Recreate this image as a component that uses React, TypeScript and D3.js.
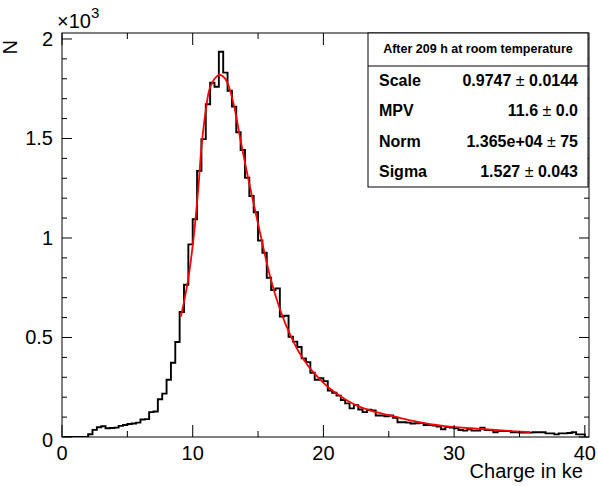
import React from 'react';
import * as d3 from 'd3';

// Histogram: 120 bins over 0..40 ke
const histMin = 0;
const histMax = 40;
const counts = [
  0, 0, 0, 0, 0, 0, 14, 36, 49, 54,
  44, 45, 47, 56, 60, 65, 68, 72, 88, 90,
  125, 128, 190, 218, 288, 373, 477, 628, 765, 968,
  1094, 1337, 1497, 1672, 1780, 1760, 1936, 1831, 1740, 1660,
  1531, 1442, 1303, 1211, 1129, 987, 926, 800, 739, 747,
  605, 609, 504, 479, 452, 395, 376, 323, 288, 295,
  281, 234, 222, 208, 186, 169, 144, 160, 138, 125,
  137, 134, 108, 108, 104, 108, 96, 74, 74, 72,
  68, 69, 71, 60, 60, 57, 52, 39, 50, 48,
  44, 35, 32, 39, 32, 32, 47, 35, 35, 24,
  30, 30, 30, 24, 24, 22, 22, 22, 24, 24,
  24, 18, 18, 13, 18, 18, 20, 24, 13, 13,
];

// Fit curve
const fitX = [9.1, 9.66, 10.05, 10.41, 10.69, 11.02, 11.32, 11.84, 12.09, 12.47, 12.85, 13.24, 13.62, 14.0, 14.38, 14.9, 15.4, 15.9, 16.4, 16.9, 17.3, 18.08, 18.84, 19.61, 20.37, 21.14, 21.91, 22.93, 24.2, 25.48, 26.76, 28.03, 29.3, 31.22, 32.36, 33.89, 35.81];
const fitY = [605, 795, 990, 1235, 1470, 1650, 1755, 1812, 1820, 1802, 1744, 1640, 1505, 1378, 1258, 1102, 952, 812, 697, 602, 537, 432, 357, 298, 250, 212, 180, 148, 122, 102, 82, 66, 55, 44, 39, 32, 24];

const xMajor = [0, 10, 20, 30, 40];
const xMinor = [5, 15, 25, 35];
const yMajor = [0, 500, 1000, 1500, 2000];
const yMajorLabels = ['0', '0.5', '1', '1.5', '2'];

const statsTitle = 'After 209 h at room temperature';
const statsNames = ['Scale', 'MPV', 'Norm', 'Sigma'];
const statsValues = ['0.9747', '11.6', '1.365e+04', '1.527'];
const statsErrors = ['0.0144', '0.0', '75', '0.043'];

const W = 598, H = 486;
const L = 62, R = 589, T = 33, B = 437;
const FONT = 'Liberation Sans, Arial, Helvetica, sans-serif';

export default function App() {
  const x = d3.scaleLinear().domain([0, 40.32]).range([L, R]);
  const y = d3.scaleLinear().domain([0, 2030]).range([B, T]);
  const bw = (histMax - histMin) / counts.length;

  const pts: [number, number][] = [[histMin, 0]];
  counts.forEach((c, i) => {
    pts.push([histMin + i * bw, c]);
    pts.push([histMin + (i + 1) * bw, c]);
  });
  pts.push([histMax, 0]);
  const histPath = d3.line<[number, number]>().x(d => x(d[0])).y(d => y(d[1]))(pts) || '';

  const fitPts = fitX.map((v, i) => [v, fitY[i]] as [number, number]);
  const fitPath = d3.line<[number, number]>().x(d => x(d[0])).y(d => y(d[1])).curve(d3.curveCatmullRom.alpha(0.5))(fitPts) || '';

  const yMinor = d3.range(0, 2001, 100).filter(v => v % 500 !== 0);

  const boxL = 368, boxR = 588, boxT = 33, boxB = 187;
  const rowY = [86, 116, 147, 177];

  return (
    <svg width={W} height={H} style={{ position: 'absolute', left: 0, top: 0, background: '#fff' }} fontFamily={FONT}>
      <rect x={0} y={0} width={W} height={H} fill="#fff" />
      <clipPath id="fr"><rect x={L} y={T} width={R - L} height={B - T} /></clipPath>
      <g clipPath="url(#fr)">
        <path d={histPath} fill="none" stroke="#000" strokeWidth={1.9} />
        <path d={fitPath} fill="none" stroke="#ff0000" strokeWidth={1.8} />
      </g>
      <rect x={L} y={T} width={R - L} height={B - T} fill="none" stroke="#000" strokeWidth={1} />
      {xMajor.map(v => (
        <g key={'xm' + v}>
          <line x1={x(v)} x2={x(v)} y1={B} y2={B - 12} stroke="#000" />
          <line x1={x(v)} x2={x(v)} y1={T} y2={T + 12} stroke="#000" />
          <text x={x(v)} y={460} fontSize={20} textAnchor="middle">{v}</text>
        </g>
      ))}
      {xMinor.map(v => (
        <g key={'xn' + v}>
          <line x1={x(v)} x2={x(v)} y1={B} y2={B - 6} stroke="#000" />
          <line x1={x(v)} x2={x(v)} y1={T} y2={T + 6} stroke="#000" />
        </g>
      ))}
      {yMajor.map((v, i) => (
        <g key={'ym' + v}>
          <line x1={L} x2={L + 10} y1={y(v)} y2={y(v)} stroke="#000" />
          <line x1={R} x2={R - 10} y1={y(v)} y2={y(v)} stroke="#000" />
          <text x={53} y={y(v) + 7 + (v === 0 ? 3 : 0)} fontSize={20} textAnchor="end">{yMajorLabels[i]}</text>
        </g>
      ))}
      {yMinor.map(v => (
        <g key={'yn' + v}>
          <line x1={L} x2={L + 5} y1={y(v)} y2={y(v)} stroke="#000" />
          <line x1={R} x2={R - 5} y1={y(v)} y2={y(v)} stroke="#000" />
        </g>
      ))}
      <text x={57} y={28} fontSize={20}>×10<tspan fontSize={15} dy={-10}>3</tspan></text>
      <text transform="translate(17,40) rotate(-90)" fontSize={20} textAnchor="end">N</text>
      <text x={583} y={478} fontSize={20} textAnchor="end">Charge in ke</text>

      <rect x={boxL} y={boxT} width={boxR - boxL} height={boxB - boxT} fill="#fff" stroke="#000" strokeWidth={1} />
      <line x1={boxL} x2={boxR} y1={66} y2={66} stroke="#000" strokeWidth={1} />
      <text x={(boxL + boxR) / 2} y={53} fontSize={12.5} fontWeight="bold" textAnchor="middle">{statsTitle}</text>
      {statsNames.map((n, i) => (
        <g key={n}>
          <text x={379} y={rowY[i]} fontSize={16} fontWeight="bold">{n}</text>
          <text x={578} y={rowY[i]} fontSize={16} fontWeight="bold" textAnchor="end">
            {statsValues[i]} <tspan fontWeight="normal">±</tspan> {statsErrors[i]}
          </text>
        </g>
      ))}
    </svg>
  );
}
